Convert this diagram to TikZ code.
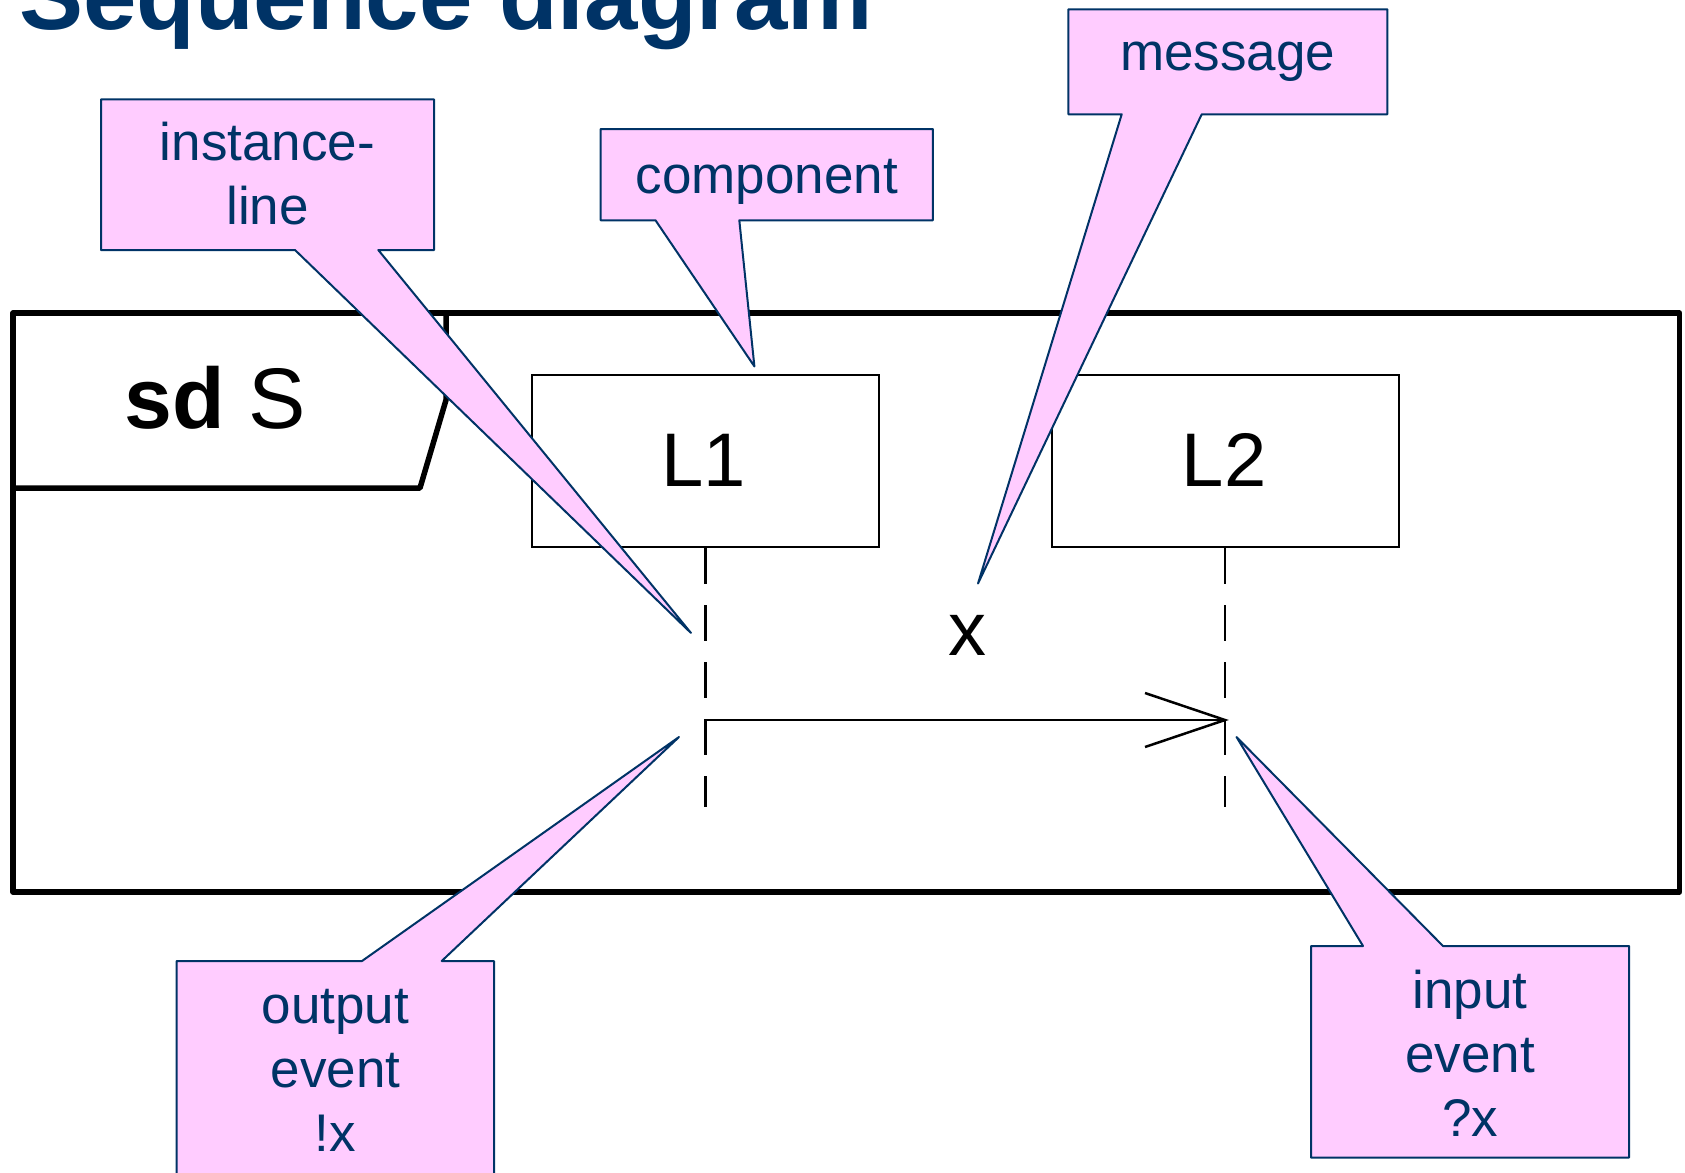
\documentclass[tikz,border=0pt]{standalone}
\usepackage{fontspec}
\setmainfont{Liberation Sans}
\definecolor{navy}{RGB}{0,51,102}
\definecolor{notepink}{RGB}{255,204,255}
\begin{document}
\begin{tikzpicture}[x=1pt,y=-1pt,
  frameline/.style={line width=5.5pt, line join=round},
  lifebox/.style={draw, line width=2pt, minimum width=347pt, minimum height=172pt, inner sep=0pt},
  lifeline/.style={line width=2.5pt, dash pattern=on 36pt off 21pt},
  msgline/.style={line width=2.5pt, line join=miter},
  bigtext/.style={anchor=base, inner sep=0pt, font=\fontsize{76}{91}\selectfont},
  callout/.style={fill=notepink, draw=navy, line width=2pt, line join=round},
  notetext/.style={anchor=base, inner sep=0pt, text=navy, font=\fontsize{53}{64}\selectfont},
]
\path[use as bounding box, clip] (0,0) rectangle (1685,1172);

% heading
\node[anchor=base west, inner sep=0pt, text=navy, font=\fontsize{96}{115}\selectfont\bfseries]
  (title) at (19,30) {Sequence diagram};

% interaction frame with its name tab
\draw[frameline] (13,313) rectangle (1679.5,892);
\draw[frameline] (13,488) -- (420,488) -- (446,400) -- (446,313);
\node[anchor=base west, inner sep=0pt, font=\fontsize{86}{103}\selectfont]
  (sdname) at (124,428) {\textbf{sd} S};

% lifeline heads
\node[lifebox] (L1) at (705.5,461) {};
\node[lifebox] (L2) at (1225,461) {};
\node[bigtext] (L1name) at (704,486) {L1};
\node[bigtext] (L2name) at (1224,486) {L2};

% lifelines
\coordinate (L1end) at (705.5,807);
\coordinate (L2end) at (1225,807);
\draw[lifeline] (L1.south) -- (L1end);
\draw[lifeline] (L2.south) -- (L2end);

% message x from L1 to L2
\coordinate (snd) at (705.5,720);
\coordinate (rcv) at (1225,720);
\draw[msgline] (snd) -- (rcv);
\draw[msgline] (rcv) ++(-80,-27) -- (rcv) -- ++(-80,27);
\node[anchor=base, inner sep=0pt, font=\fontsize{76}{91}\selectfont] (msgname) at (967,655.5) {x};

% annotation callouts
\coordinate (tipIL) at (691,633);
\coordinate (tipComp) at (754.4,366.4);
\coordinate (tipMsg) at (978,583.5);
\coordinate (tipOut) at (679,737);
\coordinate (tipIn) at (1236.5,737);

\draw[callout] (101,99.3) -- (434,99.3) -- (434,250) -- (378.3,250) -- (tipIL)
  -- (295,250) -- (101,250) -- cycle;
\node[notetext] (noteIL) at (267.5,160.7) {\begin{tabular}[t]{@{}c@{}}instance-\\line\end{tabular}};

\draw[callout] (600.7,129) -- (932.8,129) -- (932.8,220.3) -- (739.3,220.3) -- (tipComp)
  -- (655.5,220.3) -- (600.7,220.3) -- cycle;
\node[notetext] (noteComp) at (766.8,193.5) {component};

\draw[callout] (1068.3,9.3) -- (1387.3,9.3) -- (1387.3,114.3) -- (1201.7,114.3) -- (tipMsg)
  -- (1121.7,114.3) -- (1068.3,114.3) -- cycle;
\node[notetext] (noteMsg) at (1227.8,70.7) {message};

\draw[callout] (176.7,961) -- (362,961) -- (tipOut) -- (441.7,961) -- (494,961)
  -- (494,1190) -- (176.7,1190) -- cycle;
\node[notetext] (noteOut) at (335.5,1023) {\begin{tabular}[t]{@{}c@{}}output\\event\\!x\end{tabular}};

\draw[callout] (1311,946) -- (1363,946) -- (tipIn) -- (1443,946) -- (1629,946)
  -- (1629,1157.7) -- (1311,1157.7) -- cycle;
\node[notetext] (noteIn) at (1470,1008) {\begin{tabular}[t]{@{}c@{}}input\\event\\?x\end{tabular}};
\end{tikzpicture}
\end{document}
